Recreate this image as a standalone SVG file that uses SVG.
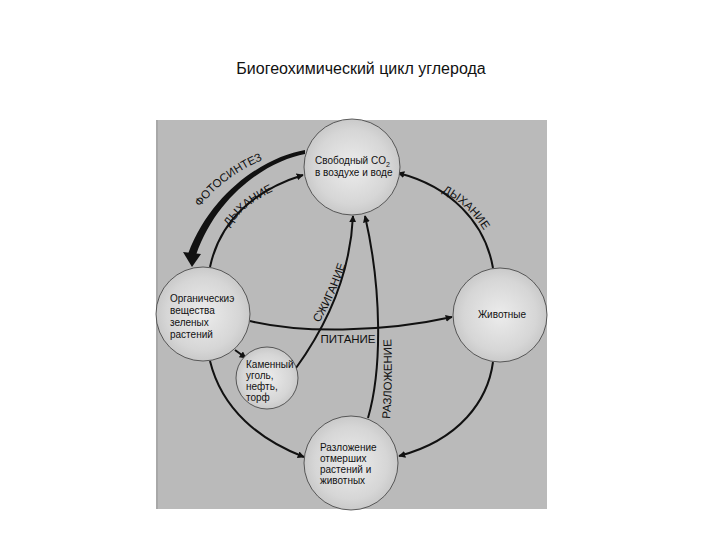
<svg xmlns="http://www.w3.org/2000/svg" width="720" height="540" viewBox="0 0 720 540">
<defs>
  <radialGradient id="ball" cx="50%" cy="50%" r="55%">
    <stop offset="0" stop-color="#ececec"/>
    <stop offset="0.7" stop-color="#d6d6d6"/>
    <stop offset="1" stop-color="#c4c4c4"/>
  </radialGradient>
  <marker id="arr" viewBox="0 0 10 10" refX="9" refY="5" markerWidth="7" markerHeight="7" markerUnits="userSpaceOnUse" orient="auto">
    <path d="M0,0 L10,5 L0,10 Z" fill="#111"/>
  </marker>
  <path id="pFoto" d="M200,207 Q225,174 270,157"/>
  <path id="pDyhL" d="M229,227 Q246,203 276,190"/>
  <path id="pDyhR" d="M442,192 Q472,206 490,241"/>
  <path id="pSzh" d="M319,323 Q336,296 348,256"/>
  <path id="pRaz" d="M390,419 Q393,380 391,336"/>
</defs>
<style>
  .node circle { fill: url(#ball); stroke: #3a3a3a; stroke-width: 0.8; }
  .node text, .lbl { font-family: "Liberation Sans", Arial, sans-serif; fill: #111; }
  .node text { font-size: 10px; }
  .lbl { font-size: 11.5px; }
  .conn path.c { fill: none; stroke: #111; stroke-width: 2; marker-end: url(#arr); }
</style>
<rect width="720" height="540" fill="#ffffff"/>
<text x="361" y="74" text-anchor="middle" font-family="Liberation Sans, Arial, sans-serif" font-size="16" fill="#111">Биогеохимический цикл углерода</text>
<rect x="156" y="120" width="391" height="389" fill="#bababa"/>
<line x1="157" y1="120" x2="157" y2="509" stroke="#a8a8a8" stroke-width="2"/>

<g id="connectors" class="conn">
  <path d="M305,150 C269,156 213,188 188,254 L196,255 C218,192 271,160 305,154 Z" fill="#111"/>
  <path d="M183,252 L201,254 L192,267 Z" fill="#111"/>
  <path class="c" d="M210,267 C220,220 255,190 303,175"/>
  <path class="c" d="M493,268 C485,222 450,186 398,173"/>
  <path class="c" d="M296,368 C322,332 350,280 353,216"/>
  <path class="c" d="M368,418 C382,370 382,290 365,216"/>
  <path class="c" d="M250,321 C300,333 380,333 452,317"/>
  <path class="c" d="M235,350 L246,358"/>
  <path class="c" d="M210,361 C222,410 260,440 304,457"/>
  <path class="c" d="M493,362 C488,400 460,440 399,456"/>
  <text class="lbl" font-size="12"><textPath href="#pFoto">ФОТОСИНТЕЗ</textPath></text>
  <text class="lbl"><textPath href="#pDyhL">ДЫХАНИЕ</textPath></text>
  <text class="lbl"><textPath href="#pDyhR">ДЫХАНИЕ</textPath></text>
  <text class="lbl"><textPath href="#pSzh">СЖИГАНИЕ</textPath></text>
  <text class="lbl" font-size="11"><textPath href="#pRaz">РАЗЛОЖЕНИЕ</textPath></text>
  <text class="lbl" x="348" y="343" text-anchor="middle" font-size="11">ПИТАНИЕ</text>
</g>

<g id="co2" class="node">
  <circle cx="352" cy="167" r="48"/>
  <text x="315" y="164" font-size="10.5">Свободный CO<tspan font-size="7" dy="3">2</tspan></text>
  <text x="315" y="176">в воздухе и  воде</text>
</g>
<g id="organic" class="node">
  <circle cx="203" cy="314" r="47"/>
  <text x="170" y="302">Органическиэ</text>
  <text x="170" y="314">вещества</text>
  <text x="170" y="326">зеленых</text>
  <text x="170" y="338">растений</text>
</g>
<g id="coal" class="node">
  <circle cx="267" cy="378" r="31"/>
  <text x="246" y="368">Каменный</text>
  <text x="246" y="379">уголь,</text>
  <text x="246" y="390" font-size="9">нефть,</text>
  <text x="246" y="401" font-size="9">торф</text>
</g>
<g id="animals" class="node">
  <circle cx="500" cy="315" r="47"/>
  <text x="502" y="318" text-anchor="middle" font-size="9.5">Животные</text>
</g>
<g id="decomp" class="node">
  <circle cx="351" cy="463" r="47"/>
  <text x="320" y="451">Разложение</text>
  <text x="320" y="462">отмерших</text>
  <text x="320" y="473">растений и</text>
  <text x="320" y="484" font-size="9">животных</text>
</g>
</svg>
